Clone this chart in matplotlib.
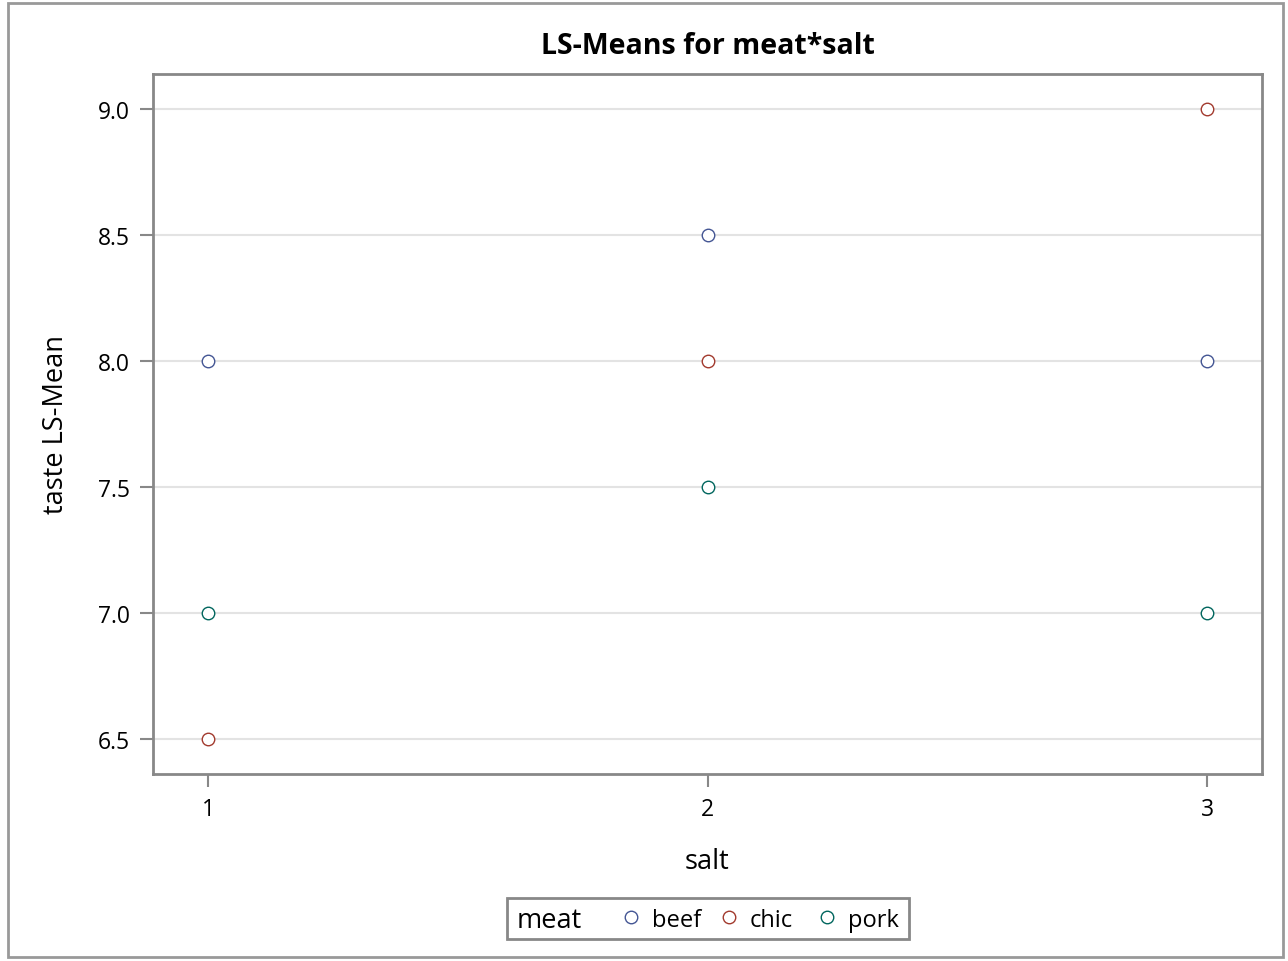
import matplotlib
matplotlib.use("Agg")
import matplotlib.pyplot as plt
from matplotlib.patches import Rectangle
from matplotlib.lines import Line2D

# LS-means of taste by salt level, one series per meat
salt = [1, 2, 3]
meats = ["beef", "chic", "pork"]
beef = [8.0, 8.5, 8.0]
chic = [6.5, 8.0, 9.0]
pork = [7.0, 7.5, 7.0]
yticks = [6.5, 7.0, 7.5, 8.0, 8.5, 9.0]
colors = ["#445694", "#A23A2E", "#01665E"]

plt.rcParams["font.family"] = ["Open Sans", "DejaVu Sans"]

W, H = 1288, 962
fig = plt.figure(figsize=(W / 100, H / 100), dpi=100)
ax = fig.add_axes([153 / W, 1 - 775 / H, (1262 - 153) / W, (775 - 75) / H])

for vals, c, name in zip([beef, chic, pork], colors, meats):
    ax.plot(salt, vals, ls="none", marker="o", ms=9, mfc="white",
            mec=c, mew=1.0, label=name, zorder=3)

ax.set_xlim(0.89, 3.11)
ax.set_ylim(6.361, 9.139)
ax.set_xticks(salt)
ax.set_yticks(yticks)
ax.set_yticklabels([f"{v:.1f}" for v in yticks])
ax.yaxis.grid(True, color="#e3e3e3", lw=1.5, zorder=0)
ax.set_axisbelow(True)
for s in ax.spines.values():
    s.set_color("#888888")
    s.set_linewidth(2)
ax.tick_params(colors="#888888", labelcolor="black", labelsize=16.5,
               length=9.5, width=1.5, pad=7)

ax.set_xlabel("salt", fontsize=19.5, labelpad=19)
ax.set_ylabel("taste LS-Mean", fontsize=19.5, labelpad=20)
ax.set_title("LS-Means for meat*salt", fontsize=20.5, fontweight="bold",
             pad=15)

# legend drawn by hand: "meat" heading sits inline inside the frame
fig.patches.append(Rectangle((507 / W, 1 - 940 / H), (909 - 507) / W,
                             (940 - 899) / H, transform=fig.transFigure,
                             fill=False, ec="#888888", lw=2))
ly = 1 - 921 / H
fig.text(517 / W, ly, "meat", fontsize=19.5, va="center", ha="left")
for i, (c, name) in enumerate(zip(colors, meats)):
    mx = (631 + i * 98) / W
    fig.add_artist(Line2D([mx], [1 - 918 / H], ls="none", marker="o",
                          ms=9, mfc="white", mec=c, mew=1.0,
                          transform=fig.transFigure))
    fig.text(mx + 21 / W, ly, name, fontsize=17, va="center", ha="left")

# outer border round the whole graph
fig.patches.append(Rectangle((8 / W, 1 - 958 / H), (1283 - 8) / W,
                             (958 - 4) / H, transform=fig.transFigure,
                             fill=False, ec="#999999", lw=2))

fig.savefig("out.png", dpi=100)
